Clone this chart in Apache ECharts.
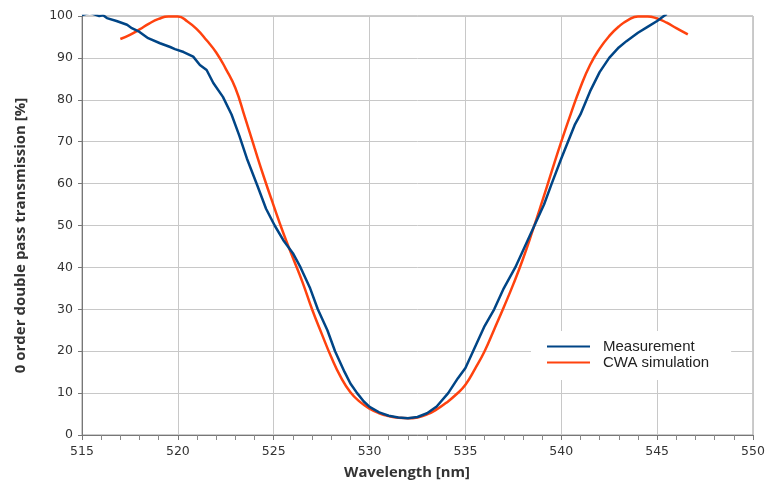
<!DOCTYPE html>
<html>
<head>
<meta charset="utf-8">
<script src="https://cdn.jsdelivr.net/npm/echarts@6/dist/echarts.min.js"></script>
<style>
  html, body { margin: 0; padding: 0; background: #fff; }
  #chart { width: 767px; height: 484px; }
</style>
</head>
<body>
<div id="chart"></div>
<script>
// wavelength [nm] and transmission [%]
var measWavelength = [515.0, 515.4, 515.9, 516.1, 516.3, 516.8, 517.35, 517.6, 518.0, 518.45, 519.07, 519.6, 519.85, 520.3, 520.8, 521.15, 521.5, 521.85, 522.35, 522.8, 523.2, 523.6, 524.15, 524.6, 525.05, 525.5, 526.0, 526.4, 526.9, 527.3, 527.8, 528.2, 528.7, 529.0, 529.35, 529.7, 530.0, 530.5, 531.0, 531.5, 532.0, 532.5, 533.0, 533.5, 534.1, 534.6, 535.0, 535.4, 536.0, 536.5, 537.0, 537.6, 538.1, 538.6, 539.1, 539.5, 540.0, 540.35, 540.7, 541.0, 541.5, 542.0, 542.5, 543.0, 543.4, 544.0, 544.5, 545.0, 545.35, 545.5];
var measValue = [100.2, 100.8, 100.0, 100.2, 99.5, 98.8, 97.9, 97.1, 96.2, 94.7, 93.5, 92.6, 92.1, 91.4, 90.3, 88.3, 87.1, 84.0, 80.7, 76.5, 71.5, 66.0, 59.5, 54.0, 50.0, 46.5, 43.4, 40.0, 35.0, 30.0, 25.0, 20.0, 15.0, 12.3, 10.0, 8.0, 6.7, 5.4, 4.6, 4.2, 4.0, 4.3, 5.2, 6.8, 10.0, 13.5, 16.0, 20.0, 26.0, 30.0, 35.0, 40.0, 45.0, 50.0, 55.0, 60.0, 66.0, 70.0, 74.0, 76.5, 82.0, 86.6, 90.0, 92.5, 94.0, 96.0, 97.4, 98.8, 100.0, 100.5];

var simWavelength = [517.0, 517.5, 518.0, 518.5, 519.0, 519.5, 520.0, 520.5, 521.0, 521.5, 522.0, 522.5, 523.0, 523.5, 524.0, 524.5, 525.0, 525.5, 526.0, 526.5, 527.0, 527.5, 528.0, 528.5, 529.0, 529.5, 530.0, 530.5, 531.0, 531.5, 532.0, 532.5, 533.0, 533.5, 534.0, 534.5, 535.0, 535.5, 536.0, 536.5, 537.0, 537.5, 538.0, 538.5, 539.0, 539.5, 540.0, 540.5, 541.0, 541.5, 542.0, 542.5, 543.0, 543.5, 544.0, 544.5, 545.0, 545.5, 546.0, 546.6];
var simValue = [94.5, 95.5, 96.8, 98.2, 99.3, 99.9, 99.9, 98.7, 96.8, 94.2, 91.3, 87.4, 82.8, 75.8, 68.5, 61.4, 54.7, 48.2, 42.3, 36.5, 30.0, 24.2, 18.6, 13.8, 10.2, 7.9, 6.3, 5.2, 4.5, 4.1, 4.0, 4.2, 4.9, 6.1, 7.7, 9.6, 12.0, 15.8, 20.0, 25.2, 30.5, 36.0, 42.0, 48.7, 55.7, 62.9, 70.0, 76.7, 83.0, 88.3, 92.2, 95.2, 97.5, 99.1, 99.9, 99.9, 99.4, 98.4, 97.1, 95.6];

var seriesNames = ['Measurement', 'CWA simulation'];

function pairs(xs, ys) {
    return xs.map(function (x, i) { return [x, ys[i]]; });
}

var myChart = echarts.init(document.getElementById('chart'));
var axisFont = 'DejaVu Sans';
var option = {
    animation: false,
    backgroundColor: '#ffffff',
    grid: {
        left: 82,
        right: 14,
        top: 16,
        bottom: 49,
        outerBoundsMode: 'none',
        containLabel: false,
        show: true,
        borderColor: '#999',
        borderWidth: 1
    },
    legend: {
        data: seriesNames,
        orient: 'vertical',
        left: 531,
        top: 331,
        backgroundColor: '#ffffff',
        padding: [8, 22, 10, 16],
        itemGap: 1,
        itemWidth: 43,
        itemHeight: 2,
        icon: 'rect',
        textStyle: {
            fontFamily: 'Liberation Sans',
            fontSize: 15,
            color: '#222',
            padding: [0, 0, 0, 8]
        }
    },
    xAxis: {
        type: 'value',
        min: 515,
        max: 550,
        interval: 5,
        name: 'Wavelength [nm]',
        nameLocation: 'middle',
        nameGap: 30,
        nameTextStyle: {
            fontFamily: 'Open Sans',
            fontWeight: 'bold',
            fontSize: 14.8,
            color: '#333',
            padding: [0, 21, 0, 0]
        },
        axisLine: { lineStyle: { color: '#777' } },
        axisTick: { length: 5, lineStyle: { color: '#777' } },
        minorTick: { show: true, splitNumber: 5, length: 5, lineStyle: { color: '#888' } },
        axisLabel: { fontFamily: axisFont, fontSize: 12.5, color: '#333', margin: 10 },
        splitLine: { lineStyle: { color: '#c8c8c8' } }
    },
    yAxis: {
        type: 'value',
        min: 0,
        max: 100,
        interval: 10,
        name: '0 order double pass transmission [%]',
        nameLocation: 'middle',
        nameGap: 54,
        nameTextStyle: {
            fontFamily: 'Open Sans',
            fontWeight: 'bold',
            fontSize: 15,
            color: '#333',
            padding: [0, 20, 0, 0]
        },
        axisLine: { show: true, lineStyle: { color: '#777' } },
        axisTick: { show: true, length: 4, lineStyle: { color: '#777' } },
        axisLabel: { fontFamily: axisFont, fontSize: 12.5, color: '#333', margin: 9 },
        splitLine: { lineStyle: { color: '#c8c8c8' } }
    },
    series: [
        {
            name: seriesNames[0],
            type: 'line',
            data: pairs(measWavelength, measValue),
            showSymbol: false,
            smooth: false,
            clip: true,
            color: '#004586',
            lineStyle: { width: 2.5, color: '#004586' },
            z: 3
        },
        {
            name: seriesNames[1],
            type: 'line',
            data: pairs(simWavelength, simValue),
            showSymbol: false,
            smooth: 0.5,
            clip: true,
            color: '#ff420e',
            lineStyle: { width: 2.5, color: '#ff420e' },
            z: 2
        }
    ]
};
myChart.setOption(option);
window.addEventListener('resize', function () {
    myChart.resize();
});
</script>
</body>
</html>
